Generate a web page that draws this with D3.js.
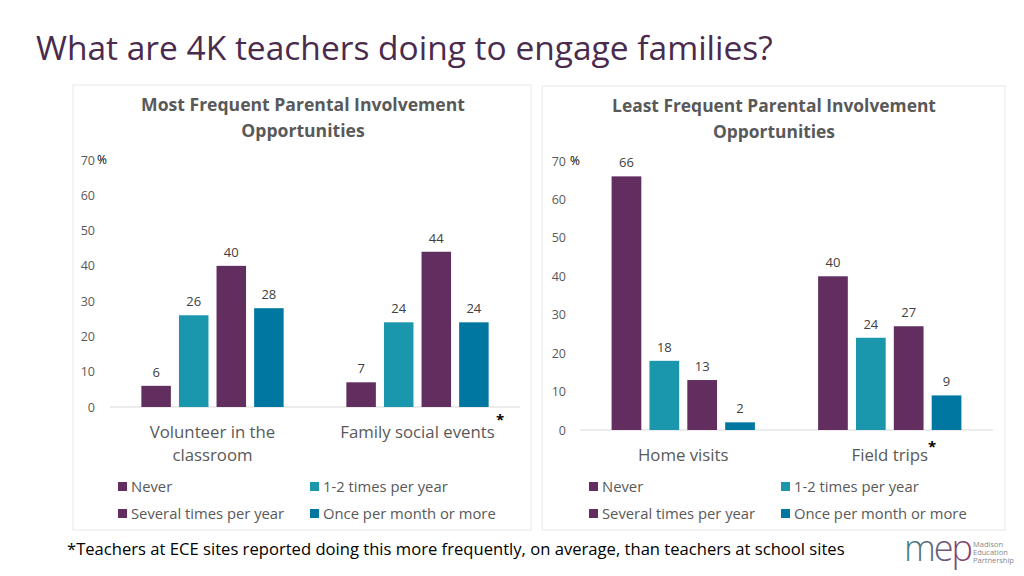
<!DOCTYPE html>
<html><head><meta charset="utf-8">
<script src="https://cdn.jsdelivr.net/npm/d3@7"></script>
<style>
body{margin:0;background:#fff;}
svg{display:block;font-family:"Open Sans",sans-serif;}
</style></head>
<body><svg id="c" width="1024" height="576"></svg>
<script>
// ---- data ----
const seriesNames = ["Never", "1-2 times per year", "Several times per year", "Once per month or more"];
const seriesColors = ["#622e60", "#1a96ad", "#622e60", "#0077a0"];
const yTicks = [0, 10, 20, 30, 40, 50, 60, 70];

const leftTitle = ["Most Frequent Parental Involvement", "Opportunities"];
const leftCategories = ["Volunteer in the classroom", "Family social events"];
const leftNever = [6, 7];
const leftOneTwo = [26, 24];
const leftSeveral = [40, 44];
const leftMonthly = [28, 24];

const rightTitle = ["Least Frequent Parental Involvement", "Opportunities"];
const rightCategories = ["Home visits", "Field trips"];
const rightNever = [66, 40];
const rightOneTwo = [18, 24];
const rightSeveral = [13, 27];
const rightMonthly = [2, 9];

const svg = d3.select("#c");

// fit a text to a target width by adjusting font size
function fit(sel, w) {
  const n = sel.node();
  const cur = n.getComputedTextLength();
  const fs = parseFloat(sel.attr("font-size"));
  sel.attr("font-size", (fs * w / cur).toFixed(2));
  return sel;
}

// page title
fit(svg.append("text").attr("x", 36).attr("y", 60).attr("font-size", 32)
  .attr("fill", "#4a2b4e").text("What are 4K teachers doing to engage families?"), 737);

function panel(cfg) {
  const g = svg.append("g");
  g.append("rect").attr("x", cfg.box[0]).attr("y", cfg.box[1]).attr("width", cfg.box[2]).attr("height", cfg.box[3])
    .attr("fill", "#fff").attr("stroke", "#e7e7e7").attr("stroke-width", 1);

  // title
  cfg.title.forEach((t, i) => {
    const s = g.append("text").attr("x", cfg.titleX).attr("y", cfg.titleY + i * 26)
      .attr("text-anchor", "middle").attr("font-weight", "bold").attr("font-size", 16)
      .attr("fill", "#595959").text(t);
    if (i === 0) fit(s, 324);
    else s.attr("font-size", g.select("text").attr("font-size"));
  });

  const x0 = d3.scaleBand().domain(cfg.categories).range(cfg.xr).paddingInner(0.306).paddingOuter(0.153);
  const x1 = d3.scaleBand().domain(seriesNames).range([0, x0.bandwidth()]).paddingInner(0.215);
  const y = d3.scaleLinear().domain([0, 70]).range(cfg.yr);

  // y axis labels
  const ya = g.append("g").attr("transform", `translate(${cfg.yLabelX},0)`)
    .call(d3.axisLeft(y).tickValues(yTicks).tickSize(0).tickPadding(0));
  ya.select(".domain").remove();
  ya.selectAll("text").attr("font-size", 12.5).attr("fill", "#595959")
    .attr("font-family", "Open Sans, sans-serif");
  g.append("text").attr("x", cfg.pctX).attr("y", y(70)).attr("dy", "0.32em")
    .attr("font-size", 12).attr("fill", "#000").text("%");

  // baseline
  g.append("line").attr("x1", cfg.xr[0]).attr("x2", cfg.xr[1]).attr("y1", y(0)).attr("y2", y(0))
    .attr("stroke", "#d9d9d9").attr("stroke-width", 1.2);

  const vals = cfg.values;
  cfg.categories.forEach((c, ci) => {
    seriesNames.forEach((s, si) => {
      const v = vals[si][ci];
      const bx = x0(c) + x1(s);
      g.append("rect").attr("x", bx).attr("y", y(v)).attr("width", x1.bandwidth())
        .attr("height", y(0) - y(v)).attr("fill", seriesColors[si]);
      g.append("text").attr("x", bx + x1.bandwidth() / 2).attr("y", y(v) - 9)
        .attr("text-anchor", "middle").attr("font-size", 13).attr("fill", "#404040").text(v);
    });
  });

  // category labels
  cfg.categories.forEach((c, ci) => {
    const lines = cfg.catLines[ci];
    const cx = x0(c) + x0.bandwidth() / 2;
    lines.forEach((l, li) => {
      g.append("text").attr("x", cx).attr("y", cfg.catY + li * 23)
        .attr("text-anchor", "middle").attr("font-size", 16.8).attr("fill", "#595959").text(l);
    });
  });
  // asterisk
  g.append("text").attr("x", cfg.starX).attr("y", cfg.starY).attr("text-anchor", "middle")
    .attr("font-size", 15).attr("font-weight", "bold").attr("fill", "#000").text("*");

  // legend
  seriesNames.forEach((s, si) => {
    const lx = cfg.legX[si % 2], ly = 492 + Math.floor(si / 2) * 27;
    g.append("rect").attr("x", lx).attr("y", ly - 10).attr("width", 9).attr("height", 9).attr("fill", seriesColors[si]);
    g.append("text").attr("x", lx + 13).attr("y", ly).attr("font-size", 14.8).attr("fill", "#595959").text(s);
  });
}

panel({
  box: [73, 85, 458, 445], title: leftTitle, titleX: 303, titleY: 111,
  categories: leftCategories, catLines: [["Volunteer in the", "classroom"], ["Family social events"]],
  values: [leftNever, leftOneTwo, leftSeveral, leftMonthly],
  xr: [110, 520], yr: [407, 160], yLabelX: 95, pctX: 97,
  catY: 438, starX: 500, starY: 425, legX: [118, 310]
});
panel({
  box: [542, 86, 463, 444], title: rightTitle, titleX: 774, titleY: 112,
  categories: rightCategories, catLines: [["Home visits"], ["Field trips"]],
  values: [rightNever, rightOneTwo, rightSeveral, rightMonthly],
  xr: [580, 993], yr: [430, 161], yLabelX: 566, pctX: 570,
  catY: 461, starX: 932, starY: 452, legX: [589, 781]
});

// footnote
fit(svg.append("text").attr("x", 67).attr("y", 555).attr("font-size", 16).attr("fill", "#000")
  .text("*Teachers at ECE sites reported doing this more frequently, on average, than teachers at school sites"), 778);

// logo
const logo = svg.append("g");
const grad = svg.append("defs").append("linearGradient").attr("id", "lg").attr("x1", "0").attr("x2", "1");
grad.append("stop").attr("offset", "0").attr("stop-color", "#3f8586");
grad.append("stop").attr("offset", "1").attr("stop-color", "#8a3a6b");
logo.append("text").attr("x", 904).attr("y", 561).attr("font-size", 36).attr("font-weight", 300)
  .attr("letter-spacing", -2).attr("fill", "url(#lg)").text("mep");
["Madison", "Education", "Partnership"].forEach((t, i) => {
  logo.append("text").attr("x", 973).attr("y", 547 + i * 8).attr("font-size", 7.5).attr("fill", "#888").text(t);
});
</script></body></html>
